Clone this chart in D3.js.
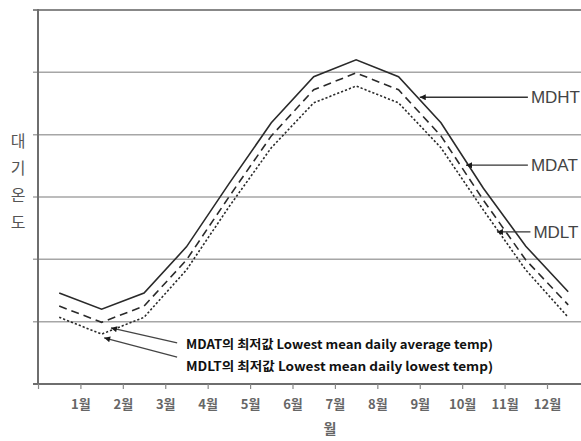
<!DOCTYPE html>
<html>
<head>
<meta charset="utf-8">
<script src="https://cdn.jsdelivr.net/npm/d3@7"></script>
<style>
  body { margin: 0; background: #fff; }
  svg { display: block; }
</style>
</head>
<body>
<script>
var width = 581,
    height = 441;

// month positions (line vertices sit half way between ticks)
var xPos = [0.5, 1.5, 2.5, 3.5, 4.5, 5.5, 6.5, 7.5, 8.5, 9.5, 10.5, 11.5, 12.5];
var monthLabels = ["1월", "2월", "3월", "4월", "5월", "6월", "7월", "8월", "9월", "10월", "11월", "12월"];
// temperatures in grid units (no scale printed on the chart)
var mdht = [1.46, 1.20, 1.46, 2.20, 3.21, 4.19, 4.93, 5.20, 4.93, 4.19, 3.14, 2.21, 1.48];
var mdat = [1.25, 0.99, 1.25, 1.99, 3.00, 3.98, 4.72, 4.99, 4.72, 3.98, 2.95, 1.99, 1.27];
var mdlt = [1.07, 0.80, 1.07, 1.83, 2.84, 3.79, 4.51, 4.78, 4.51, 3.79, 2.79, 1.83, 1.07];
var yTicks = [1, 2, 3, 4, 5, 6];
var yTitle = ["대", "기", "온", "도"];

// call-outs on the right: arrow tip [x, y] in data units, label start x
var rightNotes = [
    {label: "MDHT", tip: [9.0, 4.60], textX: 11.62},
    {label: "MDAT", tip: [10.09, 3.51], textX: 11.62},
    {label: "MDLT", tip: [10.82, 2.44], textX: 11.68}
];
// call-outs for the minima
var minNotes = [
    {label: "MDAT의 최저값 Lowest mean daily average temp)", tip: [1.72, 0.90], tail: [3.28, 0.66], textY: 0.63},
    {label: "MDLT의 최저값 Lowest mean daily lowest temp)", tip: [1.56, 0.74], tail: [3.28, 0.43], textY: 0.28}
];

var svg = d3.select("body").append("svg")
    .attr("width", width)
    .attr("height", height);

var x = d3.scaleLinear().domain([0, 12]).range([38, 547]);
var y = d3.scaleLinear().domain([0, 6]).range([384, 10]);

var defs = svg.append("defs");
defs.append("marker")
    .attr("id", "arrow")
    .attr("viewBox", "0 0 10 10")
    .attr("refX", 10)
    .attr("refY", 5)
    .attr("markerWidth", 9)
    .attr("markerHeight", 6)
    .attr("markerUnits", "userSpaceOnUse")
    .attr("orient", "auto")
    .append("path")
    .attr("d", "M0,0L10,5L0,10Z")
    .attr("fill", "#1a1a1a");

// grid lines
svg.append("g")
    .selectAll("line")
    .data(yTicks)
    .join("line")
    .attr("x1", x(0) - 5)
    .attr("x2", width)
    .attr("y1", function (d) { return y(d); })
    .attr("y2", function (d) { return y(d); })
    .attr("stroke", function (d) { return d === 6 ? "#888" : "#a6a6a6"; })
    .attr("stroke-width", function (d) { return d === 6 ? 2 : 1.5; });

// axes
svg.append("line")
    .attr("x1", x(0)).attr("x2", x(0))
    .attr("y1", y(6) - 1).attr("y2", y(0))
    .attr("stroke", "#6e6e6e").attr("stroke-width", 2);
svg.append("line")
    .attr("x1", x(0) - 5).attr("x2", width)
    .attr("y1", y(0)).attr("y2", y(0))
    .attr("stroke", "#6e6e6e").attr("stroke-width", 2);

var xAxis = d3.axisBottom(x)
    .tickValues(d3.range(0, 13))
    .tickSize(5)
    .tickFormat(function (d) { return d === 0 ? "" : monthLabels[d - 1]; });
var gx = svg.append("g")
    .attr("transform", "translate(0," + y(0) + ")")
    .call(xAxis);
gx.select(".domain").remove();
gx.selectAll(".tick line").attr("stroke", "#888").attr("stroke-width", 1.2);
gx.selectAll(".tick text")
    .attr("y", 16)
    .style("font-family", '"Noto Sans CJK KR", sans-serif')
    .style("font-size", "13px")
    .style("font-weight", "700")
    .attr("fill", "#666");

// lines
var line = d3.line()
    .x(function (d, i) { return x(xPos[i]); })
    .y(function (d) { return y(d); });

var series = [
    {values: mdht, dash: null},
    {values: mdat, dash: "8,5"},
    {values: mdlt, dash: "2.2,2"}
];
svg.append("g")
    .selectAll("path")
    .data(series)
    .join("path")
    .attr("d", function (d) { return line(d.values); })
    .attr("fill", "none")
    .attr("stroke", "#2a2a2a")
    .attr("stroke-width", 1.6)
    .attr("stroke-dasharray", function (d) { return d.dash; });

// right call-outs
var rn = svg.append("g").selectAll("g").data(rightNotes).join("g");
rn.append("line")
    .attr("x1", function (d) { return x(d.textX) - 3; })
    .attr("y1", function (d) { return y(d.tip[1]); })
    .attr("x2", function (d) { return x(d.tip[0]); })
    .attr("y2", function (d) { return y(d.tip[1]); })
    .attr("stroke", "#333")
    .attr("stroke-width", 1.3)
    .attr("marker-end", "url(#arrow)");
rn.append("text")
    .attr("x", function (d) { return x(d.textX); })
    .attr("y", function (d) { return y(d.tip[1]); })
    .attr("dy", "0.36em")
    .style("font-family", '"Liberation Sans", Arial, sans-serif')
    .style("font-size", "17px")
    .attr("fill", "#444")
    .text(function (d) { return d.label; });

// minimum call-outs
var mn = svg.append("g").selectAll("g").data(minNotes).join("g");
mn.append("line")
    .attr("x1", function (d) { return x(d.tail[0]); })
    .attr("y1", function (d) { return y(d.tail[1]); })
    .attr("x2", function (d) { return x(d.tip[0]); })
    .attr("y2", function (d) { return y(d.tip[1]); })
    .attr("stroke", "#444")
    .attr("stroke-width", 1.2)
    .attr("marker-end", "url(#arrow)");
mn.append("text")
    .attr("x", x(3.49))
    .attr("y", function (d) { return y(d.textY); })
    .attr("dy", "0.36em")
    .attr("textLength", 307)
    .attr("lengthAdjust", "spacingAndGlyphs")
    .style("font-family", '"Noto Sans CJK KR", sans-serif')
    .style("font-size", "12.5px")
    .style("font-weight", "700")
    .attr("fill", "#111")
    .text(function (d) { return d.label; });

// y title, stacked characters
svg.append("g")
    .selectAll("text")
    .data(yTitle)
    .join("text")
    .attr("x", 18)
    .attr("y", function (d, i) { return 141 + i * 27; })
    .attr("dy", "0.36em")
    .attr("text-anchor", "middle")
    .style("font-family", '"Noto Sans CJK KR", sans-serif')
    .style("font-size", "16px")
    .attr("fill", "#555")
    .text(function (d) { return d; });

// x title
svg.append("text")
    .attr("x", 330)
    .attr("y", 429)
    .attr("dy", "0.36em")
    .attr("text-anchor", "middle")
    .style("font-family", '"Noto Sans CJK KR", sans-serif')
    .style("font-size", "14px")
    .style("font-weight", "700")
    .attr("fill", "#666")
    .text("월");
</script>
</body>
</html>
